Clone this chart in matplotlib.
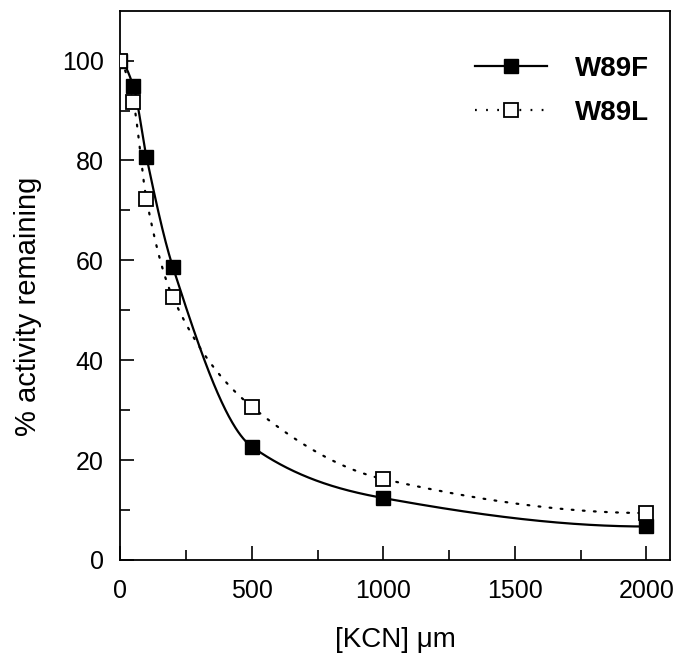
import numpy as np
import matplotlib
matplotlib.use("Agg")
import matplotlib.pyplot as plt

plt.rcParams['font.family'] = ['Liberation Sans', 'DejaVu Sans']

# [KCN] concentrations and % activity remaining
kcn_f = [0, 50, 100, 200, 500, 1000, 2000]
act_f = [100, 94.9, 80.7, 58.7, 22.7, 12.4, 6.7]

kcn_l = [0, 50, 100, 200, 500, 1000, 2000]
act_l = [100, 91.8, 72.2, 52.6, 30.7, 16.2, 9.4]

x_ticks = [0, 500, 1000, 1500, 2000]
y_ticks = [0, 20, 40, 60, 80, 100]


def pchip(x, y, xs):
    """Monotone piecewise cubic Hermite curve through (x, y)."""
    x = np.asarray(x, float)
    y = np.asarray(y, float)
    h = np.diff(x)
    d = np.diff(y) / h
    n = len(x)
    m = np.zeros(n)
    for k in range(1, n - 1):
        if d[k - 1] * d[k] > 0:
            w1 = 2 * h[k] + h[k - 1]
            w2 = h[k] + 2 * h[k - 1]
            m[k] = (w1 + w2) / (w1 / d[k - 1] + w2 / d[k])
    m[0] = ((2 * h[0] + h[1]) * d[0] - h[0] * d[1]) / (h[0] + h[1])
    if np.sign(m[0]) != np.sign(d[0]):
        m[0] = 0
    m[-1] = ((2 * h[-1] + h[-2]) * d[-1] - h[-1] * d[-2]) / (h[-1] + h[-2])
    if np.sign(m[-1]) != np.sign(d[-1]):
        m[-1] = 0
    idx = np.clip(np.searchsorted(x, xs) - 1, 0, n - 2)
    t = (xs - x[idx]) / h[idx]
    h00 = 2 * t**3 - 3 * t**2 + 1
    h10 = t**3 - 2 * t**2 + t
    h01 = -2 * t**3 + 3 * t**2
    h11 = t**3 - t**2
    return (h00 * y[idx] + h10 * h[idx] * m[idx]
            + h01 * y[idx + 1] + h11 * h[idx] * m[idx + 1])


fig = plt.figure(figsize=(6.79, 6.69), dpi=100)
ax = fig.add_axes([0.177, 0.163, 0.810, 0.821])

xs = np.linspace(0, 2000, 800)

ax.plot(xs, pchip(kcn_f, act_f, xs), color='black', lw=1.6, zorder=2)
ax.plot(xs, pchip(kcn_l, act_l, xs), color='black', lw=1.6,
        linestyle=(0, (0.8, 4.2)), dash_capstyle='round', zorder=2)

ax.plot(kcn_f, act_f, linestyle='none', marker='s', ms=10,
        mfc='black', mec='black', zorder=3)
ax.plot(kcn_l, act_l, linestyle='none', marker='s', ms=10,
        mfc='white', mec='black', mew=1.3, zorder=4)

# legend handles
h_f, = ax.plot([], [], color='black', lw=1.6, marker='s', ms=10,
               mfc='black', mec='black')
h_l, = ax.plot([], [], color='black', lw=1.6, linestyle=(0, (0.8, 4.2)),
               marker='s', ms=10, mfc='white', mec='black', mew=1.3)
ax.legend([h_f, h_l], ['W89F', 'W89L'], loc='upper right',
          bbox_to_anchor=(0.962, 0.918), frameon=False, numpoints=1,
          borderpad=0, borderaxespad=0,
          handlelength=2.6, handletextpad=1.0, labelspacing=0.66,
          prop={'weight': 'bold', 'size': 20})

ax.set_xlim(0, 2090)
ax.set_ylim(0, 110)
ax.set_xticks(x_ticks)
ax.set_yticks(y_ticks)
ax.set_xticks([250, 750, 1250, 1750], minor=True)
ax.set_yticks([10, 30, 50, 70, 90], minor=True)
ax.tick_params(which='both', direction='in', top=False, right=False,
               width=1.2, labelsize=18)
ax.tick_params(axis='x', which='major', pad=14)
ax.tick_params(axis='y', which='major', pad=12)
ax.tick_params(which='major', length=10)
ax.tick_params(which='minor', length=7)
for s in ax.spines.values():
    s.set_linewidth(1.3)

ax.set_xlabel('[KCN] \u03bcm', fontsize=20, labelpad=17)
ax.set_ylabel('% activity remaining', fontsize=21, labelpad=14)
ax.yaxis.label.set_y(0.462)

fig.savefig('out.png', dpi=100)
